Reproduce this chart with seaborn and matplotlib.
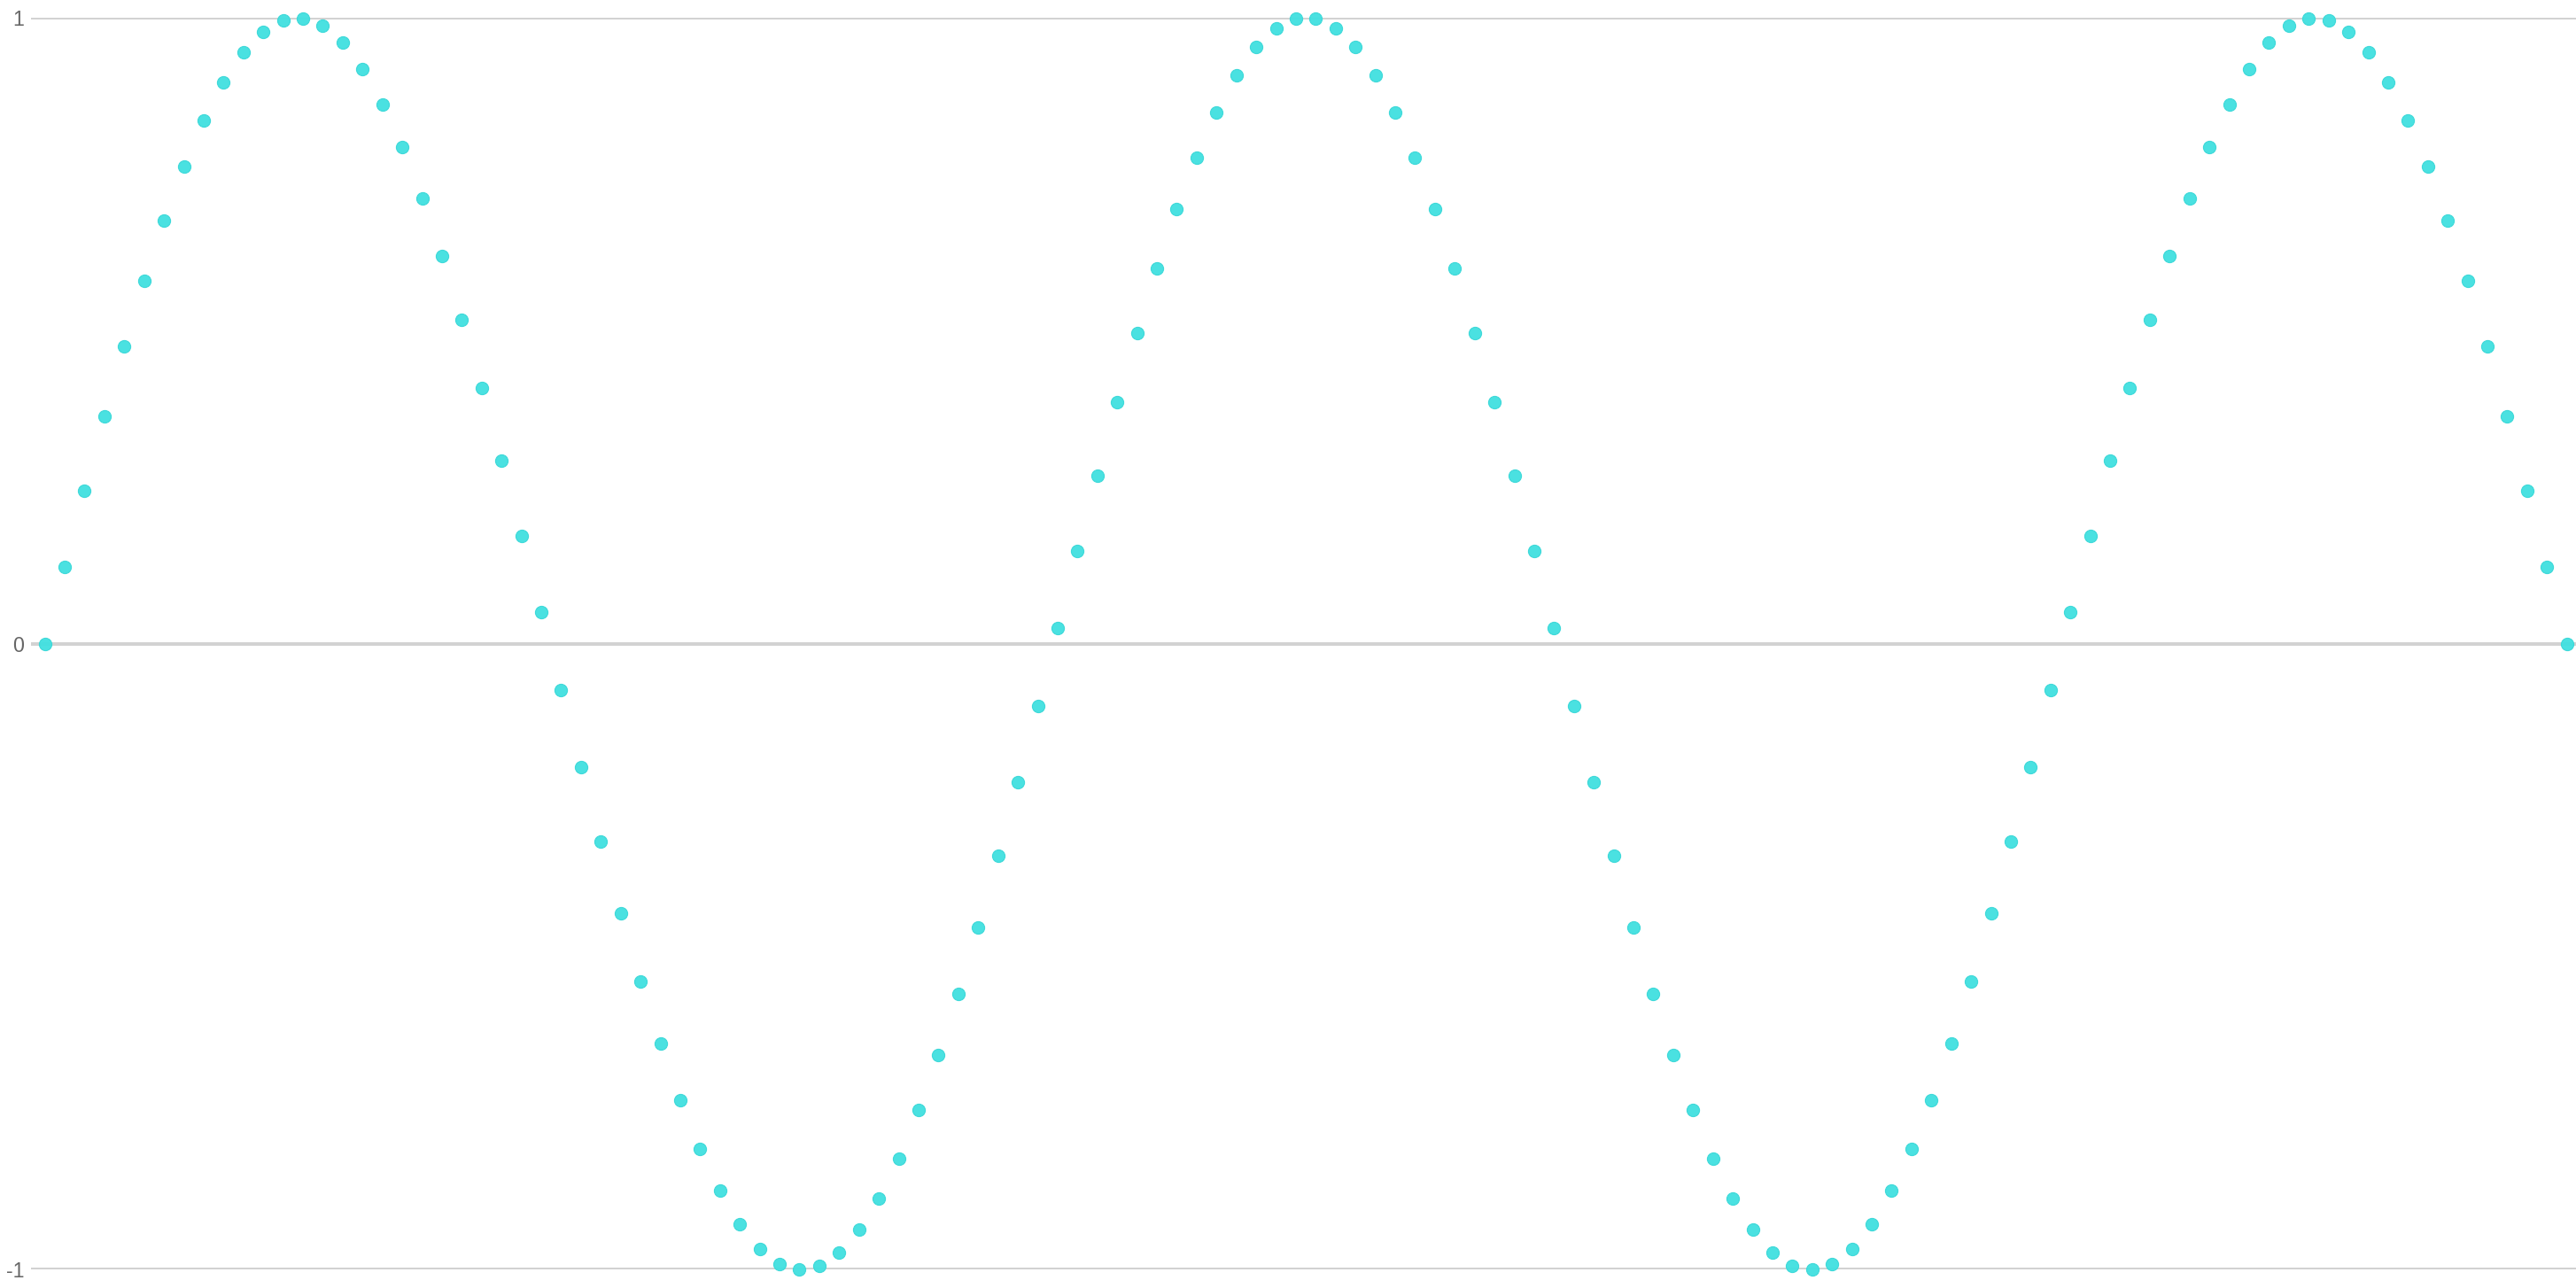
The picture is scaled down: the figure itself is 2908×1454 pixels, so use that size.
import matplotlib
matplotlib.use("Agg")
import matplotlib.pyplot as plt
import pandas as pd
import seaborn as sns

# sample index along the x axis
SAMPLE_INDEX = list(range(128))

# y values (one dot per sample)
SIGNAL = [
    0.000, 0.123, 0.245, 0.363, 0.475, 0.580, 0.676, 0.762, 0.836, 0.897,
    0.945, 0.978, 0.996, 0.999, 0.987, 0.960, 0.918, 0.862, 0.793, 0.712,
    0.619, 0.518, 0.408, 0.293, 0.172, 0.050, -0.074, -0.197, -0.316, -0.431,
    -0.539, -0.639, -0.729, -0.807, -0.874, -0.927, -0.967, -0.991, -1.000, -0.994,
    -0.973, -0.936, -0.886, -0.822, -0.745, -0.657, -0.559, -0.453, -0.339, -0.221,
    -0.099, 0.025, 0.148, 0.269, 0.386, 0.496, 0.600, 0.694, 0.777, 0.849,
    0.908, 0.953, 0.983, 0.998, 0.998, 0.983, 0.953, 0.908, 0.849, 0.777,
    0.694, 0.600, 0.496, 0.386, 0.269, 0.148, 0.025, -0.099, -0.221, -0.339,
    -0.453, -0.559, -0.657, -0.745, -0.822, -0.886, -0.936, -0.973, -0.994, -1.000,
    -0.991, -0.967, -0.927, -0.874, -0.807, -0.729, -0.639, -0.539, -0.431, -0.316,
    -0.197, -0.074, 0.050, 0.172, 0.293, 0.408, 0.518, 0.619, 0.712, 0.793,
    0.862, 0.918, 0.960, 0.987, 0.999, 0.996, 0.978, 0.945, 0.897, 0.836,
    0.762, 0.676, 0.580, 0.475, 0.363, 0.245, 0.123, 0.000,
]

Y_TICKS = [-1, 0, 1]
Y_TICK_LABELS = ["-1", "0", "1"]

DOT_COLOR = "#40e0e0"
GRID_COLOR = "#d2d2d2"
LABEL_COLOR = "#666666"


def main() -> None:
    sns.set_style("white")
    plt.rcParams["font.family"] = ["Liberation Sans", "DejaVu Sans"]

    df = pd.DataFrame({"x": SAMPLE_INDEX, "y": SIGNAL})

    fig = plt.figure(figsize=(14.54, 7.27), dpi=200)
    ax = fig.add_axes([0.0119, 0.0142, 0.9881, 0.9720])

    for val in Y_TICKS:
        ax.axhline(val, color=GRID_COLOR, linewidth=1.45, zorder=1)

    sns.scatterplot(
        data=df,
        x="x",
        y="y",
        ax=ax,
        color=DOT_COLOR,
        s=26,
        linewidth=0.4,
        edgecolor="#3ad8d8",
        alpha=0.95,
        zorder=3,
        clip_on=False,
    )

    ax.set_xlim(-0.714, 127.46)
    ax.set_ylim(-1, 1)
    ax.set_xticks([])
    ax.set_yticks(Y_TICKS)
    ax.set_yticklabels(Y_TICK_LABELS)
    ax.tick_params(axis="y", length=0, pad=2.6, labelsize=8.4, labelcolor=LABEL_COLOR)
    ax.set_xlabel("")
    ax.set_ylabel("")
    for spine in ax.spines.values():
        spine.set_visible(False)

    fig.savefig("out.png", dpi=200)


if __name__ == "__main__":
    main()
